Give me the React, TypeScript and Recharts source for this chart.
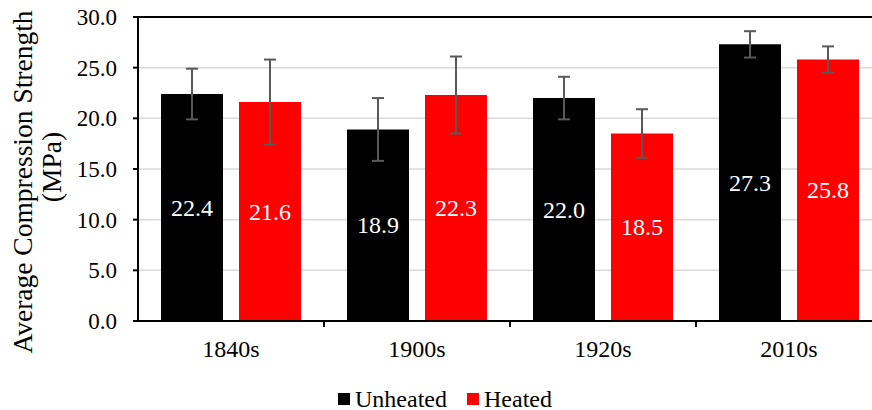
import React from 'react';
import { BarChart, Bar, XAxis, YAxis, CartesianGrid, ErrorBar, LabelList, Legend, ReferenceLine } from 'recharts';

const periods = ['1840s', '1900s', '1920s', '2010s'];
const unheated = [22.4, 18.9, 22.0, 27.3];
const heated = [21.6, 22.3, 18.5, 25.8];
const unheatedSd = [2.5, 3.1, 2.1, 1.3];
const heatedSd = [4.2, 3.8, 2.4, 1.3];
const yTicks = [0, 5, 10, 15, 20, 25, 30];

const FONT = "'Liberation Serif'";
const BLACK = '#000000';
const RED = '#ff0000';
const WHISKER = '#595959';

const rows = periods.map((period, i) => ({
    period,
    unheated: unheated[i],
    heated: heated[i],
    unheatedSd: unheatedSd[i],
    heatedSd: heatedSd[i],
}));

const legendItems = [
    { name: 'Unheated', color: BLACK },
    { name: 'Heated', color: RED },
];

// category label under each group, with a divider tick at the right edge of the band
const PeriodTick = (props: any) => {
    const { x, y, payload, index } = props;
    const half = payload.offset || 93;
    return (
        <g>
            <text x={x} y={y + 36} textAnchor="middle" fontSize={24} style={{ fontFamily: FONT }} fill="#000">
                {payload.value}
            </text>
            {index < periods.length - 1 && (
                <line x1={x + half} x2={x + half} y1={y} y2={y + 6} stroke="#000" strokeWidth={2} />
            )}
        </g>
    );
};

const YTitle = () => {
    const lines = [
        { text: 'Average Compression Strength', x: 32, y: 182 },
        { text: '(MPa)', x: 61, y: 167 },
    ];
    return (
        <g>
            {lines.map(l => (
                <text
                    key={l.text}
                    x={l.x}
                    y={l.y}
                    transform={`rotate(-90, ${l.x}, ${l.y})`}
                    textAnchor="middle"
                    fontSize={27.5}
                    style={{ fontFamily: FONT }}
                    fill="#000"
                >
                    {l.text}
                </text>
            ))}
        </g>
    );
};

const ValueLabel = (props: any) => {
    const { x, y, width, height, value } = props;
    return (
        <text
            x={x + width / 2}
            y={y + height / 2}
            textAnchor="middle"
            dominantBaseline="central"
            fontSize={24}
            style={{ fontFamily: FONT }}
            fill="#fff"
        >
            {Number(value).toFixed(1)}
        </text>
    );
};

const LegendBox = () => (
    <div style={{ display: 'flex', justifyContent: 'center', alignItems: 'center', height: 24, fontFamily: FONT, fontSize: 24, color: '#000' }}>
        {legendItems.map((item, i) => (
            <div key={item.name} style={{ display: 'flex', alignItems: 'center', marginLeft: i === 0 ? 0 : 20 }}>
                <span style={{ display: 'inline-block', width: 12, height: 12, background: item.color, marginRight: 5 }} />
                <span>{item.name}</span>
            </div>
        ))}
    </div>
);

export default function App() {
    return (
        <div style={{ position: 'absolute', left: 0, top: 0, width: 872, height: 410, overflow: 'hidden', background: '#fff', fontFamily: FONT }}>
            <BarChart
                width={890}
                height={410}
                data={rows}
                margin={{ top: 17, right: 8, left: 0, bottom: 0 }}
                barGap={16}
            >
                <CartesianGrid vertical={false} stroke="#d9d9d9" strokeWidth={1.5} />
                <XAxis
                    dataKey="period"
                    height={65}
                    axisLine={{ stroke: '#000', strokeWidth: 2 }}
                    tickLine={false}
                    tickSize={0}
                    tickMargin={0}
                    interval={0}
                    tick={<PeriodTick />}
                />
                <YAxis
                    width={138}
                    domain={[0, 30]}
                    ticks={yTicks}
                    interval={0}
                    tickFormatter={(v: number) => v.toFixed(1)}
                    axisLine={{ stroke: '#000', strokeWidth: 2 }}
                    tickLine={{ stroke: '#000', strokeWidth: 2 }}
                    tickSize={5}
                    tickMargin={16}
                    tick={{ fontSize: 23, fill: '#000', style: { fontFamily: FONT } }}
                    label={<YTitle />}
                />
                <ReferenceLine y={30} stroke="#000" strokeWidth={2} />
                <Legend
                    content={<LegendBox />}
                    wrapperStyle={{ top: 387, left: 0, width: 890, height: 24 }}
                />
                <Bar dataKey="unheated" name="Unheated" fill={BLACK} barSize={62} isAnimationActive={false}>
                    <ErrorBar dataKey="unheatedSd" direction="y" width={6} stroke={WHISKER} strokeWidth={2} />
                    <LabelList dataKey="unheated" content={<ValueLabel />} />
                </Bar>
                <Bar dataKey="heated" name="Heated" fill={RED} barSize={62} isAnimationActive={false}>
                    <ErrorBar dataKey="heatedSd" direction="y" width={6} stroke={WHISKER} strokeWidth={2} />
                    <LabelList dataKey="heated" content={<ValueLabel />} />
                </Bar>
            </BarChart>
        </div>
    );
}
